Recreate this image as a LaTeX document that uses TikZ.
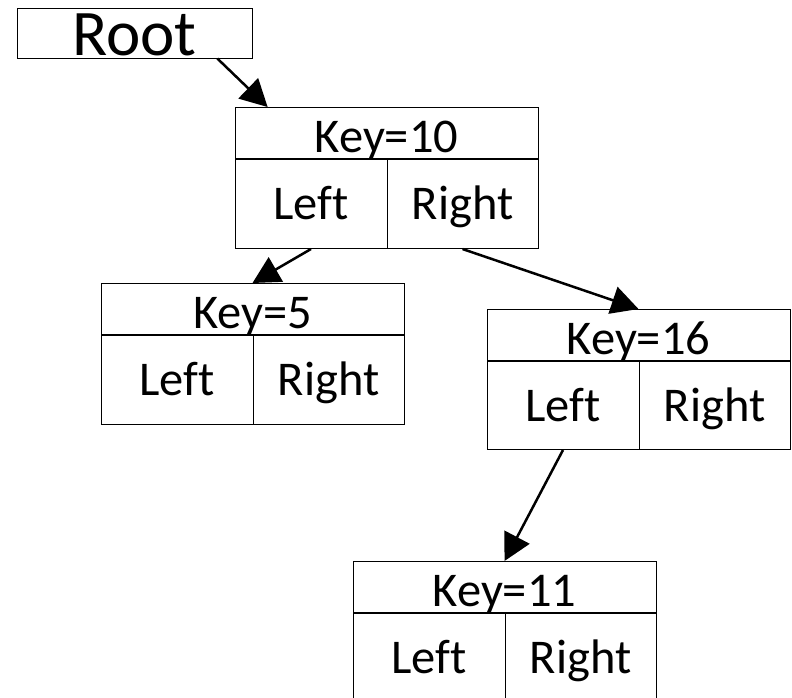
\documentclass[tikz,border=0pt]{standalone}
\usepackage{fontspec}
\setmainfont[Ligatures=NoCommon]{Carlito}
\usetikzlibrary{arrows.meta,calc}
\begin{document}
\begin{tikzpicture}[x=1pt,y=-1pt,
  cell/.style={draw=black,line width=1pt,inner sep=0pt,font=\fontsize{48.5}{48.5}\selectfont},
  keycell/.style={cell,minimum width=303pt,minimum height=51pt,text height=39pt,text depth=0pt,anchor=north},
  leftcell/.style={cell,minimum width=152pt,minimum height=89pt,text height=31pt,text depth=0pt,anchor=north west},
  rightcell/.style={cell,minimum width=151pt,minimum height=89pt,text height=31pt,text depth=0pt,anchor=north east},
  rootbox/.style={draw=black,line width=1pt,inner sep=0pt,minimum width=235pt,minimum height=50pt,
    text height=44pt,text depth=0pt,font=\fontsize{65}{65}\selectfont},
  link/.style={line width=2.5pt,-{Triangle[length=27pt,width=28pt]}}]
\useasboundingbox (0,0) rectangle (792,697);
\clip (0,0) rectangle (792,697);
\fill[white] (0,0) rectangle (792,697);

\node[rootbox] (root) at (134.5,33) {Root};

\node[keycell] (k10) at (386.5,107) {Key=10};
\node[leftcell] (k10l) at (k10.south west) {Left};
\node[rightcell] (k10r) at (k10.south east) {Right};

\node[keycell] (k5) at (252.5,283) {Key=5};
\node[leftcell] (k5l) at (k5.south west) {Left};
\node[rightcell] (k5r) at (k5.south east) {Right};

\node[keycell] (k16) at (638.5,309) {Key=16};
\node[leftcell,minimum height=88pt] (k16l) at (k16.south west) {Left};
\node[rightcell,minimum height=88pt] (k16r) at (k16.south east) {Right};

\node[keycell] (k11) at (504.5,561) {Key=11};
\node[leftcell] (k11l) at (k11.south west) {Left};
\node[rightcell] (k11r) at (k11.south east) {Right};

\draw[link] ($(root.south west)!0.851!(root.south east)$) -- ($(k10.north west)!0.109!(k10.north east)$);
\draw[link] (k10l.south) -- (k5.north);
\draw[link] (k10r.south) -- (k16.north);
\draw[link] (k16l.south) -- (k11.north);
\end{tikzpicture}
\end{document}
